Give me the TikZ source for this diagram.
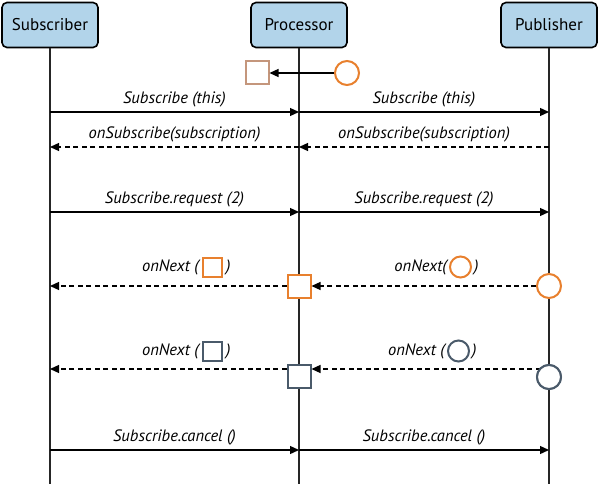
\documentclass[tikz,border=0pt]{standalone}
\usepackage{fontspec}
\setmainfont{PT Sans}
\usetikzlibrary{positioning,arrows.meta}
\definecolor{headblue}{RGB}{178,212,234}
\definecolor{dotorange}{RGB}{232,128,46}
\definecolor{dotslate}{RGB}{74,90,106}
\definecolor{dotbrown}{RGB}{196,150,124}
\begin{document}
\begin{tikzpicture}[x=1pt, y=-1pt,
  head/.style={draw, line width=1.6pt, fill=headblue, rounded corners=5pt, minimum width=96pt, minimum height=45pt, font=\fontsize{17}{19}\selectfont},
  life/.style={line width=1.6pt, black!85},
  msg/.style={line width=1.3pt, -{Triangle[length=9pt,width=8pt]}},
  ret/.style={msg, dash pattern=on 5pt off 3.5pt},
  lbl/.style={font=\itshape\fontsize{16.5}{18}\selectfont, inner sep=1pt},
  sq/.style={draw, line width=2pt, fill=white, minimum size=23pt, inner sep=0pt},
  sml/.style={sq, minimum size=19pt},
  dot/.style={draw, circle, line width=2pt, fill=white, minimum size=24pt, inner sep=0pt},
  smdot/.style={dot, minimum size=21pt}]
\useasboundingbox (0,0) rectangle (600,484);
% lifelines
\node[head] (sub) at (50,25) {Subscriber};
\node[head] (proc) at (299,25) {Processor};
\node[head] (pub) at (549,25) {Publisher};
\coordinate (subEnd) at (50,484);
\coordinate (procEnd) at (299,484);
\coordinate (pubEnd) at (549,484);
\draw[life] (sub) -- (subEnd);
\draw[life] (proc) -- (procEnd);
\draw[life] (pub) -- (pubEnd);
\foreach \y/\n in {112/a,147/b,212/c,286/d,369/e,450/f} {
  \coordinate (S\n) at (50,\y);
  \coordinate (P\n) at (299,\y);
  \coordinate (B\n) at (549,\y);
}
% processor gets its own item
\node[sq, draw=dotbrown] (procIn) at (257,73) {};
\node[dot, draw=dotorange] (pubIn) at (347,73) {};
\draw[msg] (pubIn.west) -- (procIn.east);
% subscribe / request / cancel
\draw[msg] (Sa) -- node[lbl, above=3pt] {Subscribe (this)} (Pa);
\draw[msg] (Pa) -- node[lbl, above=3pt] {Subscribe (this)} (Ba);
\draw[ret] (Pb) -- node[lbl, above=3pt] {onSubscribe(subscription)} (Sb);
\draw[ret] (Bb) -- node[lbl, above=3pt] {onSubscribe(subscription)} (Pb);
\draw[msg] (Sc) -- node[lbl, above=3pt] {Subscribe.request (2)} (Pc);
\draw[msg] (Pc) -- node[lbl, above=3pt] {Subscribe.request (2)} (Bc);
\draw[msg] (Sf) -- node[lbl, above=3pt] {Subscribe.cancel ()} (Pf);
\draw[msg] (Pf) -- node[lbl, above=3pt] {Subscribe.cancel ()} (Bf);
% first item
\node[sq, draw=dotorange] (procA) at (Pd) {};
\node[dot, draw=dotorange] (pubA) at (Bd) {};
\draw[ret] (pubA.west) -- (procA.east);
\draw[ret] (procA.west) -- (Sd);
\node[lbl, anchor=east] (nxtA) at (200,267) {onNext (};
\node[sml, draw=dotorange, right=2pt of nxtA] (nxtAsq) {};
\node[lbl, right=2pt of nxtAsq] (nxtAend) {)};
\node[lbl, anchor=east] (nxtB) at (448,267) {onNext(};
\node[smdot, draw=dotorange, right=1pt of nxtB] (nxtBdot) {};
\node[lbl, right=1pt of nxtBdot] (nxtBend) {)};
% second item
\node[sq, draw=dotslate] (procB) at (299,376) {};
\node[dot, draw=dotslate] (pubB) at (549,377) {};
\draw[ret] (Be) -- (procB.east |- Pe);
\draw[ret] (procB.west |- Pe) -- (Se);
\node[dot, draw=dotslate] at (549,377) {};
\node[lbl, anchor=east] (nxtC) at (200,351) {onNext (};
\node[sml, draw=dotslate, right=2pt of nxtC] (nxtCsq) {};
\node[lbl, right=2pt of nxtCsq] (nxtCend) {)};
\node[lbl, anchor=east] (nxtD) at (446,351) {onNext (};
\node[smdot, draw=dotslate, right=1pt of nxtD] (nxtDdot) {};
\node[lbl, right=1pt of nxtDdot] (nxtDend) {)};
\end{tikzpicture}
\end{document}
